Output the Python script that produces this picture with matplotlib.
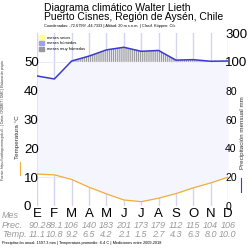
import matplotlib
matplotlib.use("Agg")
import matplotlib.pyplot as plt
import matplotlib.patches as mpatches
import numpy as np

plt.rcParams["font.family"] = ["Liberation Sans", "DejaVu Sans"]

meses = ["E", "F", "M", "A", "M", "J", "J", "A", "S", "O", "N", "D"]
prec = [90.2, 88.1, 106, 140, 183, 201, 173, 179, 112, 115, 104, 106]
temp = [11.1, 10.8, 9.2, 6.5, 4.2, 2.1, 1.5, 2.7, 4.3, 6.3, 8.0, 10.0]
prec_ticks = [0, 20, 40, 60, 80, 100, 300]


def _escala_prec(p):
    # 20 mm = 10 C hasta 100 mm, luego comprimido
    p = np.asarray(p, dtype=float)
    return np.where(p <= 100, p / 2.0, 50 + (p - 100) / 20.0)


x = np.arange(12)
p_esc = _escala_prec(prec)
t = np.array(temp)

fig = plt.figure(figsize=(2.5, 2.5), dpi=100)
ax = fig.add_axes([0.148, 0.176, 0.764, 0.692])
ax.set_xlim(0, 11)
ax.set_ylim(0, 60)

for xi in x:
    ax.axvline(xi, color="#d3d3f2", lw=1.0, zorder=0)
for yi in range(10, 60, 10):
    ax.axhline(yi, color="#e6e6f8", lw=0.6, zorder=0)

# meses humedos
ax.fill_between(x, t, np.minimum(p_esc, 50), where=p_esc > t, color="#f5f5fd", lw=0, zorder=0.5)
# meses muy humedos (>100 mm)
plt.rcParams["hatch.linewidth"] = 0.6
plt.rcParams["hatch.color"] = "#8c8c8c"
ax.fill_between(x, 50, p_esc, where=p_esc > 50, interpolate=True, facecolor="#e4e4ea",
                edgecolor="#8c8c8c", hatch="||||||||", lw=0, zorder=2)

ax.plot(x, p_esc, color="#3a3ad0", lw=1.1, zorder=4)
ax.plot(x, t, color="#f2ad3a", lw=0.9, zorder=4)

for s in ax.spines.values():
    s.set_visible(False)
ax.set_xticks(x)
ax.set_xticklabels(meses, fontsize=9.5)
ax.tick_params(axis="x", length=0, pad=1.5)
ax.set_yticks(range(0, 60, 10))
ax.set_yticklabels([str(v) for v in range(0, 60, 10)], fontsize=9.5, ha="left")
ax.tick_params(axis="y", length=0, pad=9.4)

ax2 = ax.twinx()
ax2.set_ylim(0, 60)
ax2.set_yticks(_escala_prec(prec_ticks))
ax2.set_yticklabels([str(v) for v in prec_ticks])
for lab, v in zip(ax2.get_yticklabels(), prec_ticks):
    lab.set_fontsize(9.5 if v >= 100 else 7.5)
ax2.tick_params(axis="y", length=0, pad=-2)
for s in ax2.spines.values():
    s.set_visible(False)

# titulos
fig.text(0.176, 0.968, "Diagrama climático Walter Lieth", fontsize=7.5, va="center")
fig.text(0.176, 0.932, "Puerto Cisnes, Región de Aysén, Chile", fontsize=7.5, va="center")
fig.text(0.176, 0.897, "Coordenadas: -72.6799/ -44.7333 | Altitud: 20 m s.n.m. | Clasif. Köppen: Cfc",
         fontsize=2.8, va="center")

# leyenda
handles = [mpatches.Patch(color="#ffff99", label="meses secos"),
           mpatches.Patch(color="#a0a0f0", label="meses húmedos"),
           mpatches.Patch(color="#9a9a9a", label="meses muy húmedos")]
ax.legend(handles=handles, loc="upper left", fontsize=2.9, frameon=False,
          handlelength=1.2, handleheight=1.2, borderaxespad=0.2, labelspacing=0.3)

# etiquetas de ejes
fig.text(0.068, 0.45, "Temperatura °C", fontsize=4.5, rotation=90, va="center", ha="center", color="#333333")
fig.add_artist(plt.Line2D([0.078, 0.078], [0.30, 0.352], color="#f2ad3a", lw=0.8))
fig.text(0.97, 0.47, "Precipitación mensual mm", fontsize=4.5, rotation=90, va="center", ha="center",
         color="#333333")
fig.add_artist(plt.Line2D([0.965, 0.965], [0.232, 0.288], color="#3a3ad0", lw=0.8))
fig.text(0.012, 0.52, "Fuente: https://catalogo.mma.gob.cl/... | Datos: CR2MET / DMC | Elaboración propia",
         fontsize=2.3, rotation=90, va="center", ha="center", color="#333333")

# tabla inferior
gris = "#9a9a9a"
fig.text(0.008, 0.14, "Mes", fontsize=6.5, style="italic", color=gris, va="center")
fig.text(0.008, 0.10, "Prec.", fontsize=6.5, style="italic", color=gris, va="center")
fig.text(0.008, 0.062, "Temp.", fontsize=6.5, style="italic", color=gris, va="center")
for xi, p, tt in zip(x, prec, temp):
    xf = (ax.transData + fig.transFigure.inverted()).transform((xi, 0))[0]
    fig.text(xf, 0.10, f"{p:g}", fontsize=6.5, style="italic", color=gris, va="center", ha="center")
    fig.text(xf, 0.062, f"{tt:.1f}", fontsize=6.5, style="italic", color=gris, va="center", ha="center")

fig.text(0.008, 0.028, "Precipitación anual: %.1f mm | Temperatura promedio: %.1f C | Mediciones entre 2009-2018"
         % (sum(prec), np.mean(temp)), fontsize=2.8, va="center")

fig.savefig("out.png", dpi=100)
